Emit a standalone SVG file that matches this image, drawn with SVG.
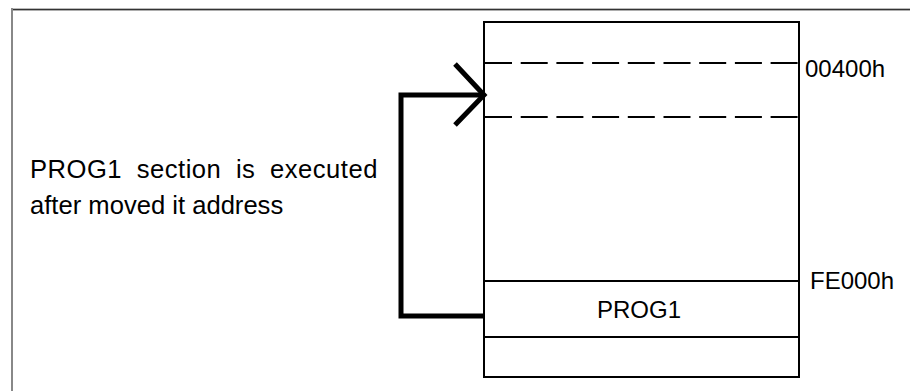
<svg xmlns="http://www.w3.org/2000/svg" width="910" height="391" viewBox="0 0 910 391">
<style>
text{font-family:"Liberation Sans",Arial,sans-serif;font-size:24px;fill:#000}
.note{font-size:25.6px}
.box{fill:none;stroke:#000;stroke-width:2}
.dash{stroke:#000;stroke-width:2;stroke-dasharray:27 8.7}
.sep{stroke:#000;stroke-width:2}
.conn{fill:none;stroke:#000;stroke-width:5}
</style>
<rect width="910" height="391" fill="#fff"/>
<g id="frame">
<rect x="12" y="8" width="898" height="1" fill="#bbb"/>
<rect x="12" y="9" width="898" height="1.4" fill="#333"/>
<rect x="11" y="8" width="2" height="383" fill="#888"/>
</g>
<g id="memory">
<rect class="box" x="484" y="22" width="315" height="355"/>
<line class="dash" x1="485" y1="63" x2="799" y2="63"/>
<line class="dash" x1="485" y1="117" x2="799" y2="117"/>
<line class="sep" x1="484" y1="281" x2="799" y2="281"/>
<line class="sep" x1="484" y1="337" x2="799" y2="337"/>
<text x="639" y="318" text-anchor="middle">PROG1</text>
</g>
<g id="labels">
<text x="805" y="77">00400h</text>
<text x="810" y="289">FE000h</text>
</g>
<g id="note">
<text class="note" x="30" y="178" word-spacing="7" letter-spacing="0.5">PROG1 section is executed</text>
<text class="note" x="30" y="214">after moved it address</text>
</g>
<g id="connectors">
<polyline class="conn" points="483,316 401,316 401,95 483,95"/>
<polyline class="conn" stroke-width="4.5" points="455,64 484,95 455,125"/>
</g>
</svg>
